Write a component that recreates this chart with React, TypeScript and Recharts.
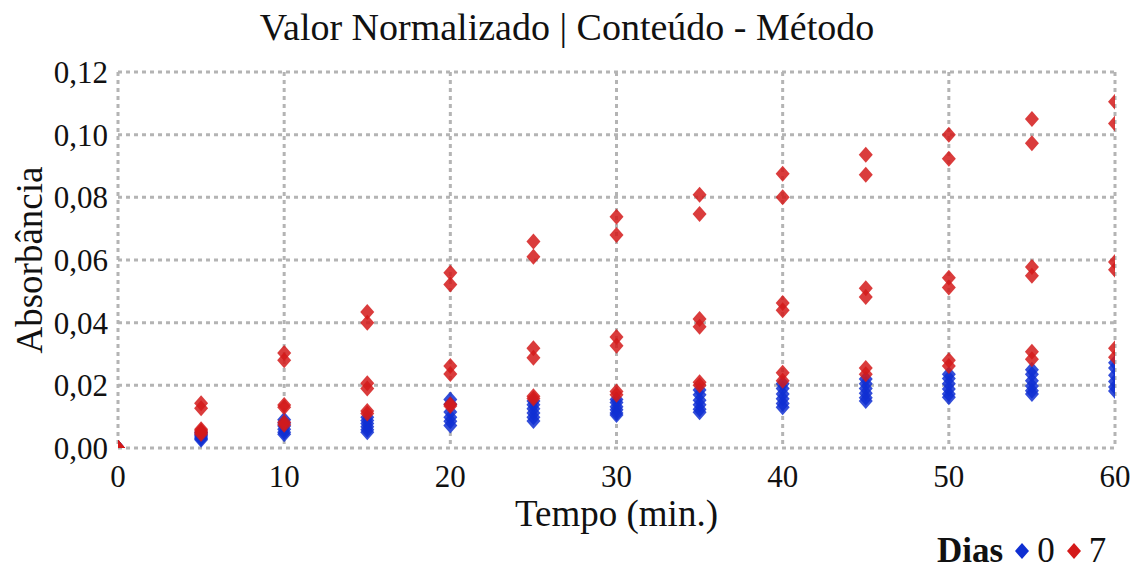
import { ScatterChart, Scatter, XAxis, YAxis, CartesianGrid } from "recharts";

const TIMES = [0, 5, 10, 15, 20, 25, 30, 35, 40, 45, 50, 55, 60];

// Dias = 0 (six readings per time)
const DAY0_A = [0, 0.0050, 0.0090, 0.0098, 0.0155, 0.0150, 0.0155, 0.0185, 0.0205, 0.0220, 0.0235, 0.0250, 0.0272];
const DAY0_B = [0, 0.0045, 0.0080, 0.0088, 0.0140, 0.0138, 0.0145, 0.0170, 0.0190, 0.0205, 0.0222, 0.0235, 0.0255];
const DAY0_C = [0, 0.0040, 0.0070, 0.0078, 0.0115, 0.0125, 0.0132, 0.0152, 0.0172, 0.0190, 0.0205, 0.0215, 0.0232];
const DAY0_D = [0, 0.0035, 0.0060, 0.0068, 0.0098, 0.0112, 0.0122, 0.0138, 0.0157, 0.0175, 0.0188, 0.0198, 0.0212];
const DAY0_E = [0, 0.0030, 0.0050, 0.0058, 0.0085, 0.0098, 0.0112, 0.0124, 0.0142, 0.0160, 0.0172, 0.0183, 0.0195];
const DAY0_F = [0, 0.0026, 0.0044, 0.0050, 0.0072, 0.0086, 0.0105, 0.0114, 0.0130, 0.0150, 0.0162, 0.0172, 0.0182];

// Dias = 7
const DAY7_HIGH_A = [0, 0.0143, 0.0303, 0.0434, 0.0559, 0.0659, 0.0738, 0.0808, 0.0875, 0.0936, 0.1000, 0.1050, 0.1105];
const DAY7_HIGH_B = [0, 0.0127, 0.0280, 0.0400, 0.0522, 0.0610, 0.0680, 0.0747, 0.0800, 0.0872, 0.0923, 0.0973, 0.1036];
const DAY7_MID_A = [0, 0.0060, 0.0137, 0.0207, 0.0262, 0.0318, 0.0354, 0.0412, 0.0463, 0.0510, 0.0543, 0.0578, 0.0594];
const DAY7_MID_B = [0, 0.0055, 0.0130, 0.0190, 0.0236, 0.0288, 0.0326, 0.0387, 0.0440, 0.0482, 0.0512, 0.0550, 0.0569];
const DAY7_LOW_A = [0, 0.0050, 0.0082, 0.0118, 0.0140, 0.0165, 0.0180, 0.0210, 0.0240, 0.0255, 0.0280, 0.0307, 0.0318];
const DAY7_LOW_B = [0, 0.0045, 0.0074, 0.0110, 0.0134, 0.0158, 0.0170, 0.0200, 0.0215, 0.0235, 0.0262, 0.0283, 0.0290];

const X_TICKS = [0, 10, 20, 30, 40, 50, 60];
const Y_TICKS = [0, 0.02, 0.04, 0.06, 0.08, 0.1, 0.12];

const BLUE = "#0f2fd2";
const RED = "#d41a1a";
const FONT = "'Liberation Serif', 'Times New Roman', serif";

function toPoints(series: number[][]) {
  const pts: { t: number; v: number }[] = [];
  series.forEach((vals) => vals.forEach((v, i) => pts.push({ t: TIMES[i], v })));
  return pts;
}

const day0 = toPoints([DAY0_A, DAY0_B, DAY0_C, DAY0_D, DAY0_E, DAY0_F]);
const day7 = toPoints([DAY7_HIGH_A, DAY7_HIGH_B, DAY7_MID_A, DAY7_MID_B, DAY7_LOW_A, DAY7_LOW_B]);

const Diamond = (color: string) => (props: any) => {
  const { cx, cy } = props;
  if (cx == null || cy == null) return <g />;
  const w = 7;
  const h = 8;
  return (
    <path
      d={`M${cx},${cy - h}L${cx + w},${cy}L${cx},${cy + h}L${cx - w},${cy}Z`}
      fill={color}
      fillOpacity={0.85}
    />
  );
};

const fmtY = (v: number) => v.toFixed(2).replace(".", ",");

const LegendMark = ({ color }: { color: string }) => (
  <svg width={18} height={18} style={{ margin: "0 6px 0 10px" }}>
    <path d="M9,1L16,9L9,17L2,9Z" fill={color} />
  </svg>
);

export default function App() {
  return (
    <div style={{ position: "absolute", left: 0, top: 0, width: 1134, height: 573, background: "#fff", fontFamily: FONT }}>
      <div
        style={{
          position: "absolute",
          left: 0,
          top: 8,
          width: 1134,
          textAlign: "center",
          fontSize: 38,
          lineHeight: "38px",
          color: "#111",
        }}
      >
        Valor Normalizado | Conteúdo - Método
      </div>
      <ScatterChart width={1134} height={573} margin={{ top: 72, right: 19, bottom: 45, left: 0 }}>
        <CartesianGrid stroke="#b4b4b4" strokeWidth={3} strokeDasharray="4 4" />
        <XAxis
          type="number"
          dataKey="t"
          domain={[0, 60]}
          ticks={X_TICKS}
          allowDataOverflow
          axisLine={false}
          tickLine={false}
          tickMargin={11}
          height={80}
          tick={{ fontSize: 31, fill: "#111", fontFamily: FONT }}
          label={{ value: "Tempo (min.)", position: "insideBottom", offset: 2, fontSize: 37, fill: "#111", fontFamily: FONT }}
        />
        <YAxis
          type="number"
          dataKey="v"
          domain={[0, 0.12]}
          ticks={Y_TICKS}
          allowDataOverflow
          axisLine={false}
          tickLine={false}
          tickMargin={4}
          width={118}
          tickFormatter={fmtY}
          tick={{ fontSize: 31, fill: "#111", fontFamily: FONT }}
          label={{
            content: (p: any) => {
              const vb = p.viewBox || {};
              const x = 42;
              const y = (vb.y ?? 72) + (vb.height ?? 376) / 2;
              return (
                <text
                  x={x}
                  y={y}
                  transform={`rotate(-90 ${x} ${y})`}
                  textAnchor="middle"
                  fontSize={37}
                  fill="#111"
                  fontFamily={FONT}
                >
                  Absorbância
                </text>
              );
            },
          }}
        />
        <Scatter name="0" data={day0} shape={Diamond(BLUE)} isAnimationActive={false} />
        <Scatter name="7" data={day7} shape={Diamond(RED)} isAnimationActive={false} />
      </ScatterChart>
      <div
        style={{
          position: "absolute",
          left: 937,
          top: 533,
          display: "flex",
          alignItems: "center",
          fontSize: 35,
          lineHeight: "36px",
          color: "#111",
        }}
      >
        <span style={{ fontWeight: "bold" }}>Dias</span>
        <LegendMark color={BLUE} />
        <span>0</span>
        <LegendMark color={RED} />
        <span>7</span>
      </div>
    </div>
  );
}
